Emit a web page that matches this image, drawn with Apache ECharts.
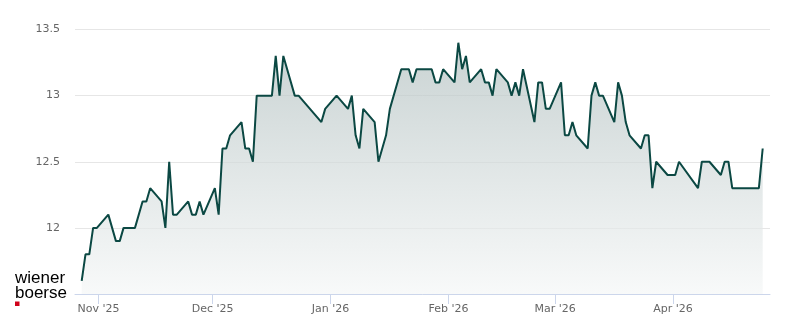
<!DOCTYPE html>
<html>
<head>
<meta charset="utf-8">
<script src="https://cdn.jsdelivr.net/npm/echarts@6/dist/echarts.min.js"></script>
<style>
html,body{margin:0;padding:0;background:#fff;}
#chart{width:800px;height:324px;}
</style>
</head>
<body>
<div id="chart"></div>
<script>
// Trading dates and closing prices
const dates = [
 '2025-10-27','2025-10-28','2025-10-29','2025-10-30','2025-10-31',
 '2025-11-03','2025-11-05','2025-11-06','2025-11-07','2025-11-10',
 '2025-11-12','2025-11-13','2025-11-14','2025-11-17','2025-11-18',
 '2025-11-19','2025-11-20','2025-11-21','2025-11-24','2025-11-25',
 '2025-11-26','2025-11-27','2025-11-28','2025-12-01','2025-12-02',
 '2025-12-03','2025-12-04','2025-12-05','2025-12-08','2025-12-09',
 '2025-12-10','2025-12-11','2025-12-12','2025-12-15','2025-12-16',
 '2025-12-17','2025-12-18','2025-12-19','2025-12-22','2025-12-23',
 '2025-12-29','2025-12-30','2026-01-02','2026-01-05','2026-01-06',
 '2026-01-07','2026-01-08','2026-01-09','2026-01-12','2026-01-13',
 '2026-01-15','2026-01-16','2026-01-19','2026-01-21','2026-01-22',
 '2026-01-23','2026-01-27','2026-01-28','2026-01-29','2026-01-30',
 '2026-02-02','2026-02-03','2026-02-04','2026-02-05','2026-02-06',
 '2026-02-09','2026-02-10','2026-02-11','2026-02-12','2026-02-13',
 '2026-02-16','2026-02-17','2026-02-18','2026-02-19','2026-02-20',
 '2026-02-23','2026-02-24','2026-02-25','2026-02-26','2026-02-27',
 '2026-03-02','2026-03-03','2026-03-04','2026-03-05','2026-03-06',
 '2026-03-09','2026-03-10','2026-03-11','2026-03-12','2026-03-13',
 '2026-03-16','2026-03-17','2026-03-18','2026-03-19','2026-03-20',
 '2026-03-23','2026-03-24','2026-03-25','2026-03-26','2026-03-27',
 '2026-03-30','2026-04-01','2026-04-02','2026-04-07','2026-04-08',
 '2026-04-10','2026-04-13','2026-04-14','2026-04-15','2026-04-16',
 '2026-04-23','2026-04-24'
];
const prices = [
 11.6,11.8,11.8,12.0,12.0,
 12.1,11.9,11.9,12.0,12.0,
 12.2,12.2,12.3,12.2,12.0,
 12.5,12.1,12.1,12.2,12.1,
 12.1,12.2,12.1,12.3,12.1,
 12.6,12.6,12.7,12.8,12.6,
 12.6,12.5,13.0,13.0,13.0,
 13.3,13.0,13.3,13.0,13.0,
 12.8,12.9,13.0,12.9,13.0,
 12.7,12.6,12.9,12.8,12.5,
 12.7,12.9,13.2,13.2,13.1,
 13.2,13.2,13.1,13.1,13.2,
 13.1,13.4,13.2,13.3,13.1,
 13.2,13.1,13.1,13.0,13.2,
 13.1,13.0,13.1,13.0,13.2,
 12.8,13.1,13.1,12.9,12.9,
 13.1,12.7,12.7,12.8,12.7,
 12.6,13.0,13.1,13.0,13.0,
 12.8,13.1,13.0,12.8,12.7,
 12.6,12.7,12.7,12.3,12.5,
 12.4,12.4,12.5,12.3,12.5,
 12.5,12.4,12.5,12.5,12.3,
 12.3,12.6
];
const monthTicks = ['2025-11-01','2025-12-01','2026-01-01','2026-02-01','2026-03-01','2026-04-01'];
const monthNames = ['Jan','Feb','Mar','Apr','May','Jun','Jul','Aug','Sep','Oct','Nov','Dec'];
const yTicks = [12, 12.5, 13, 13.5];

function toTs(s, hours) {
  const p = s.split('-').map(Number);
  return new Date(p[0], p[1]-1, p[2], hours || 0, 0, 0).getTime();
}
const DAY = 86400000;
const CLOSE_HOUR = 14;
const seriesData = dates.map((d, i) => [toTs(d, CLOSE_HOUR), prices[i]]);
const tickTs = monthTicks.map(d => toTs(d, 0));
const xMin = seriesData[0][0] - 1.76 * DAY;
const xMax = seriesData[seriesData.length-1][0] + 1.92 * DAY;

const chart = echarts.init(document.getElementById('chart'), null, {renderer:'canvas'});
chart.setOption({
  animation: false,
  backgroundColor: '#ffffff',
  grid: { left: 75, right: 30, top: 29.5, bottom: 30 },
  xAxis: {
    type: 'value',
    min: xMin,
    max: xMax,
    axisLine: { show: true, lineStyle: { color: '#ccd6eb', width: 1 } },
    axisTick: { show: true, customValues: tickTs, length: 10, lineStyle: { color: '#ccd6eb' } },
    axisLabel: {
      customValues: tickTs,
      color: '#666666',
      fontSize: 11,
      fontFamily: 'DejaVu Sans',
      margin: 10,
      formatter: function (v) {
        const d = new Date(v);
        return monthNames[d.getMonth()] + " '" + String(d.getFullYear()).slice(2);
      }
    },
    splitLine: { show: false }
  },
  yAxis: {
    type: 'value',
    min: 11.5,
    max: 13.5,
    interval: 0.5,
    axisLine: { show: false },
    axisTick: { show: false },
    axisLabel: {
      customValues: yTicks,
      color: '#666666',
      fontSize: 11,
      fontFamily: 'DejaVu Sans',
      margin: 15,
      padding: [4, 0, 0, 0]
    },
    splitLine: { show: true, lineStyle: { color: '#e6e6e6', width: 1 } }
  },
  series: [{
    type: 'line',
    data: seriesData,
    showSymbol: false,
    symbol: 'none',
    lineStyle: { color: '#0b4843', width: 2 },
    itemStyle: { color: '#0b4843' },
    areaStyle: {
      color: new echarts.graphic.LinearGradient(0, 0, 0, 1, [
        { offset: 0, color: '#b2c0c0' },
        { offset: 1, color: '#f5f7f7' }
      ])
    }
  }],
  graphic: [
    { type: 'text', left: 15, top: 270, style: { text: 'wiener', font: '17px "Liberation Sans", Arial, sans-serif', fill: '#000000' } },
    { type: 'text', left: 15, top: 285, style: { text: 'boerse', font: '17px "Liberation Sans", Arial, sans-serif', fill: '#000000' } },
    { type: 'rect', left: 15, top: 301.5, shape: { width: 4.5, height: 4.5 }, style: { fill: '#d0021b' } }
  ]
});
</script>
</body>
</html>
